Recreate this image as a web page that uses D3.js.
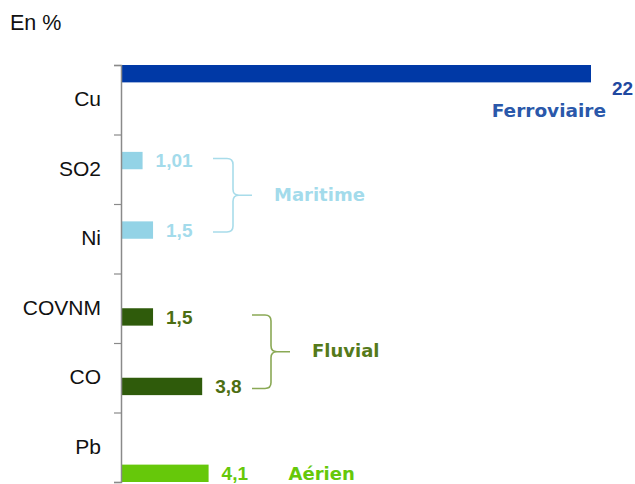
<!DOCTYPE html>
<meta charset="utf-8">
<script src="https://d3js.org/d3.v7.min.js"></script>
<style>
  body { margin: 0; background: #fff; }
</style>
<div id="chart"></div>
<script>

// categories (top to bottom) and the transport mode each bar belongs to
var categories = ["Cu", "SO2", "Ni", "COVNM", "CO", "Pb"];
var modes = ["Ferroviaire", "Maritime", "Fluvial", "Aérien"];
var barMode = ["Ferroviaire", "Maritime", "Maritime", "Fluvial", "Fluvial", "Aérien"];
var values = [22, 1.01, 1.5, 1.5, 3.8, 4.1];

var barColor = {Ferroviaire: "#0039a6", Maritime: "#93d3e6", Fluvial: "#2f5b0b", "Aérien": "#66c80a"};
var textColor = {Ferroviaire: "#1f48a0", Maritime: "#a3dbeb", Fluvial: "#4c6e12", "Aérien": "#66c80a"};
var groupColor = {Ferroviaire: "#2a58aa", Maritime: "#a3dbeb", Fluvial: "#557a1a", "Aérien": "#66c80a"};
var braceColor = {Maritime: "#a8dcea", Fluvial: "#8aa955"};

var width = 635, height = 484;

var svg = d3.select("#chart").append("svg")
    .attr("width", width)
    .attr("height", height);

// scales
var y = d3.scaleBand().domain(categories).range([65, 482]).padding(0);
var ySub = d3.scaleBand().domain(modes).range([0, y.bandwidth()]).padding(0);
var x = d3.scaleLinear().domain([0, 22]).range([121, 591]);

var data = categories.map(function(c, i) {
  return {cat: c, mode: barMode[i], value: values[i], label: String(values[i]).replace(".", ",")};
});

function barMid(d) { return y(d.cat) + ySub(d.mode) + ySub.bandwidth() / 2; }

// unit
svg.append("text")
  .attr("x", 10).attr("y", 30)
  .style("font-family", "Liberation Sans, Arial, sans-serif")
  .style("font-size", "21.5px")
  .attr("fill", "#111")
  .text("En %");

// bars
svg.append("g").selectAll("rect")
  .data(data)
  .enter().append("rect")
    .attr("x", x(0))
    .attr("y", function(d) { return y(d.cat) + ySub(d.mode); })
    .attr("width", function(d) { return x(d.value) - x(0); })
    .attr("height", ySub.bandwidth())
    .attr("fill", function(d) { return barColor[d.mode]; });

// axis: tick marks on band boundaries
var yEdges = d3.scaleLinear().domain([0, categories.length]).range([65, 482]);
svg.append("g")
  .attr("transform", "translate(" + x(0) + ",0)")
  .call(d3.axisLeft(yEdges).ticks(categories.length).tickSize(7).tickFormat(""))
  .call(function(g) {
    g.select(".domain").attr("stroke", "#8a8a8a").attr("stroke-width", 1.5);
    g.selectAll(".tick line").attr("stroke", "#8a8a8a").attr("stroke-width", 1.2);
  });

// axis: category labels in band centres
svg.append("g")
  .attr("transform", "translate(" + x(0) + ",0)")
  .call(d3.axisLeft(y).tickSize(0).tickPadding(20))
  .call(function(g) {
    g.select(".domain").remove();
    g.selectAll("text")
      .style("font-family", "Liberation Sans, Arial, sans-serif")
      .style("font-size", "21px")
      .attr("fill", "#111");
  });

// value labels
svg.append("g").selectAll("text")
  .data(data)
  .enter().append("text")
    .attr("x", function(d, i) { return i === 0 ? x(d.value) + 21 : x(d.value) + 13; })
    .attr("y", function(d, i) { return i === 0 ? barMid(d) + 15 : barMid(d); })
    .attr("dy", "0.35em")
    .style("font-family", "Liberation Sans, Arial, sans-serif")
    .style("font-size", "19px")
    .style("font-weight", "bold")
    .attr("fill", function(d) { return textColor[d.mode]; })
    .text(function(d) { return d.label; });

// braces for the groups with two bars
var groupFont = "DejaVu Sans, Verdana, sans-serif";
var braces = [
  {mode: "Maritime", xl: 213, xv: 233, xt: 252},
  {mode: "Fluvial", xl: 252, xv: 271, xt: 290}
];
braces.forEach(function(b) {
  var rows = data.filter(function(d) { return d.mode === b.mode; });
  var y1 = barMid(rows[0]) - 2, y2 = barMid(rows[rows.length - 1]) + 2, ym = (y1 + y2) / 2, r = 6;
  var p = d3.path();
  p.moveTo(b.xl, y1);
  p.lineTo(b.xv - r, y1);
  p.quadraticCurveTo(b.xv, y1, b.xv, y1 + r);
  p.lineTo(b.xv, ym - r);
  p.quadraticCurveTo(b.xv, ym, b.xv + r, ym);
  p.lineTo(b.xt, ym);
  p.moveTo(b.xv + r, ym);
  p.quadraticCurveTo(b.xv, ym, b.xv, ym + r);
  p.lineTo(b.xv, y2 - r);
  p.quadraticCurveTo(b.xv, y2, b.xv - r, y2);
  p.lineTo(b.xl, y2);
  svg.append("path")
    .attr("d", p.toString())
    .attr("fill", "none")
    .attr("stroke", braceColor[b.mode])
    .attr("stroke-width", 1.6);
  svg.append("text")
    .attr("x", b.xt + 22)
    .attr("y", ym - 1)
    .attr("dy", "0.35em")
    .style("font-family", groupFont)
    .style("font-size", "18px")
    .style("font-weight", "bold")
    .attr("fill", groupColor[b.mode])
    .text(b.mode);
});

// single-bar groups
var cu = data[0], pb = data[5];
svg.append("text")
  .attr("x", x(cu.value) + 15)
  .attr("y", barMid(cu) + 37)
  .attr("dy", "0.35em")
  .attr("text-anchor", "end")
  .style("font-family", groupFont)
  .style("font-size", "18.5px")
  .style("font-weight", "bold")
  .attr("fill", groupColor[cu.mode])
  .text(cu.mode);

svg.append("text")
  .attr("x", x(pb.value) + 80)
  .attr("y", barMid(pb))
  .attr("dy", "0.35em")
  .style("font-family", groupFont)
  .style("font-size", "18px")
  .style("font-weight", "bold")
  .attr("fill", groupColor[pb.mode])
  .text(pb.mode);

</script>
